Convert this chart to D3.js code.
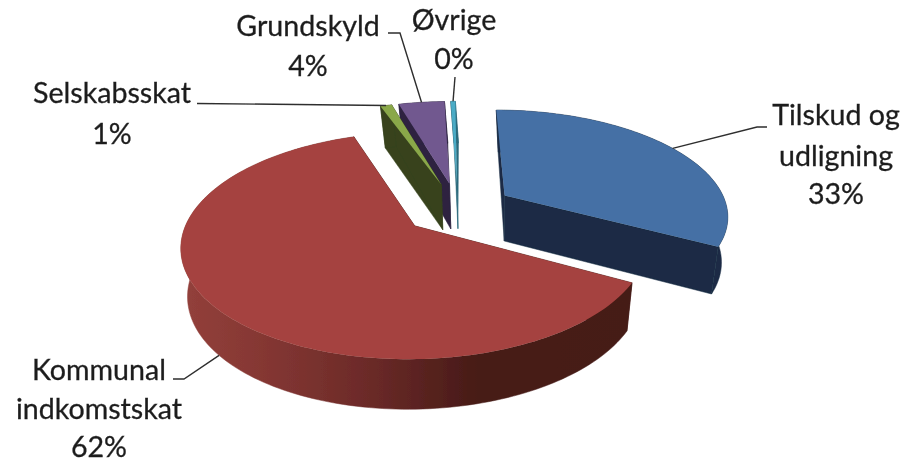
<!DOCTYPE html>
<html>
<head>
<meta charset="utf-8">
<script src="https://cdn.jsdelivr.net/npm/d3@7/dist/d3.min.js"></script>
<style>
body { margin: 0; background: #fff; }
text { font-family: Lato, "Open Sans", sans-serif; font-size: 28.6px; fill: #1f1f1f; stroke: #1f1f1f; stroke-width: 0.3px; text-anchor: middle; }
</style>
</head>
<body>
<div class="container"></div>
<script>
const width = 904;
const height = 463;

const categories = ['Tilskud og udligning', 'Kommunal indkomstskat', 'Selskabsskat', 'Grundskyld', 'Øvrige'];
const values = [33, 62, 1, 4, 0.4];
const percentLabels = ['33%', '62%', '1%', '4%', '0%'];
const topColors = ['#4470a5', '#a5433f', '#8aa84a', '#71588f', '#4bacc6'];
const sideColors = ['#1a2c44', '#451a16', '#37431c', '#2d2340', '#2c6a7c'];

// draw back slices first
const drawOrder = [4, 3, 2, 0, 1];

// label placement: text lines, centre x, baselines, elbow of leader line
const labelLayout = [
    { lines: ['Tilskud og', 'udligning', '33%'], x: 836, y: [125, 166, 204], leader: [[767, 127], [757, 127]], anchor: 'top' },
    { lines: ['Kommunal', 'indkomstskat', '62%'], x: 99, y: [380, 419, 457], leader: [[173, 379], [184, 379]], anchor: 'bottom' },
    { lines: ['Selskabsskat', '1%'], x: 112, y: [103, 144], leader: [[197, 103.5]], anchor: 'top' },
    { lines: ['Grundskyld', '4%'], x: 308, y: [36, 76], leader: [[388, 33], [400, 33]], anchor: 'top' },
    { lines: ['Øvrige', '0%'], x: 454, y: [30, 69], leader: [[455, 77]], anchor: 'top' }
];

// perspective of the pie plane
const cx = 458, cy = 208.5, scaleX = 223, scaleY = 104, persp = 0.17, shear = 2;
const explode = 0.25;
const depthX = 480, depthShrink = 0.025, depthLean = 2;

const svg = d3.select('.container')
    .append('svg')
    .attr('width', width)
    .attr('height', height);

const defs = svg.append('defs');
defs.append('filter').attr('id', 'soft')
    .append('feGaussianBlur').attr('stdDeviation', 0.45);

const wallGrad = defs.append('linearGradient')
    .attr('id', 'redWall')
    .attr('gradientUnits', 'userSpaceOnUse')
    .attr('x1', 181).attr('x2', 630).attr('y1', 0).attr('y2', 0);
[[0, '#93403b'], [0.18, '#853733'], [0.42, '#6b2a28'], [0.66, '#471b17'], [1, '#451a16']].forEach(s => {
    wallGrad.append('stop').attr('offset', s[0]).attr('stop-color', s[1]);
});

const G = svg.append('g').attr('filter', 'url(#soft)');

const slices = d3.pie().sort(null).value(d => d)(values);
const line = d3.line();

// plane point -> screen
function project(u, v) {
    const w = 1 - persp * v;
    return [cx + (scaleX * u + shear * v) / w, cy + scaleY * v / w];
}

// same point on the underside of the slice
function projectLow(u, v) {
    const p = project(u, v);
    return [p[0] - (p[0] - depthX) * depthShrink - depthLean * v, p[1] + 46 + 3.5 * v];
}

function sliceGeom(d) {
    const mid = (d.startAngle + d.endAngle) / 2;
    const ox = explode * Math.sin(mid), oy = -explode * Math.cos(mid);
    const steps = Math.max(2, Math.ceil((d.endAngle - d.startAngle) * 40));
    const rim = d3.range(steps + 1).map(i => {
        const a = d.startAngle + (d.endAngle - d.startAngle) * i / steps;
        return [ox + Math.sin(a), oy - Math.cos(a)];
    });
    return { apex: [ox, oy], rim: rim, mid: mid };
}

const pt = (f, q) => f(q[0], q[1]);

drawOrder.forEach(i => {
    const g = sliceGeom(slices[i]);
    const rimTop = g.rim.map(q => pt(project, q));
    const rimLow = g.rim.map(q => pt(projectLow, q));
    const apexTop = pt(project, g.apex);
    const apexLow = pt(projectLow, g.apex);
    const sl = G.append('g').attr('class', 'slice');
    const wall = i === 1 ? 'url(#redWall)' : sideColors[i];

    // radial faces
    [[rimTop[0], rimLow[0]], [rimTop[rimTop.length - 1], rimLow[rimLow.length - 1]]].forEach(e => {
        sl.append('path')
            .attr('d', line([apexTop, e[0], e[1], apexLow]) + 'Z')
            .attr('fill', sideColors[i])
            .attr('stroke', sideColors[i])
            .attr('stroke-width', 0.5);
    });

    // outer wall, stroked to close the seam with the faces
    sl.append('path')
        .attr('d', line(rimTop.concat(rimLow.slice().reverse())) + 'Z')
        .attr('fill', wall)
        .attr('stroke', wall)
        .attr('stroke-width', 0.5);

    // top
    sl.append('path')
        .attr('d', line([apexTop].concat(rimTop)) + 'Z')
        .attr('fill', topColors[i]);
});

// labels and leader lines
labelLayout.forEach((l, i) => {
    const g = sliceGeom(slices[i]);
    const onRim = [g.apex[0] + Math.sin(g.mid), g.apex[1] - Math.cos(g.mid)];
    const end = l.anchor === 'bottom' ? pt(projectLow, onRim) : pt(project, onRim);
    G.append('path')
        .attr('d', line(l.leader.concat([end])))
        .attr('fill', 'none')
        .attr('stroke', '#2e2e2e')
        .attr('stroke-width', 1.4);

    G.selectAll(null)
        .data(l.lines)
        .join('text')
        .attr('x', l.x)
        .attr('y', (d, j) => l.y[j])
        .text(d => d);
});
</script>
</body>
</html>
